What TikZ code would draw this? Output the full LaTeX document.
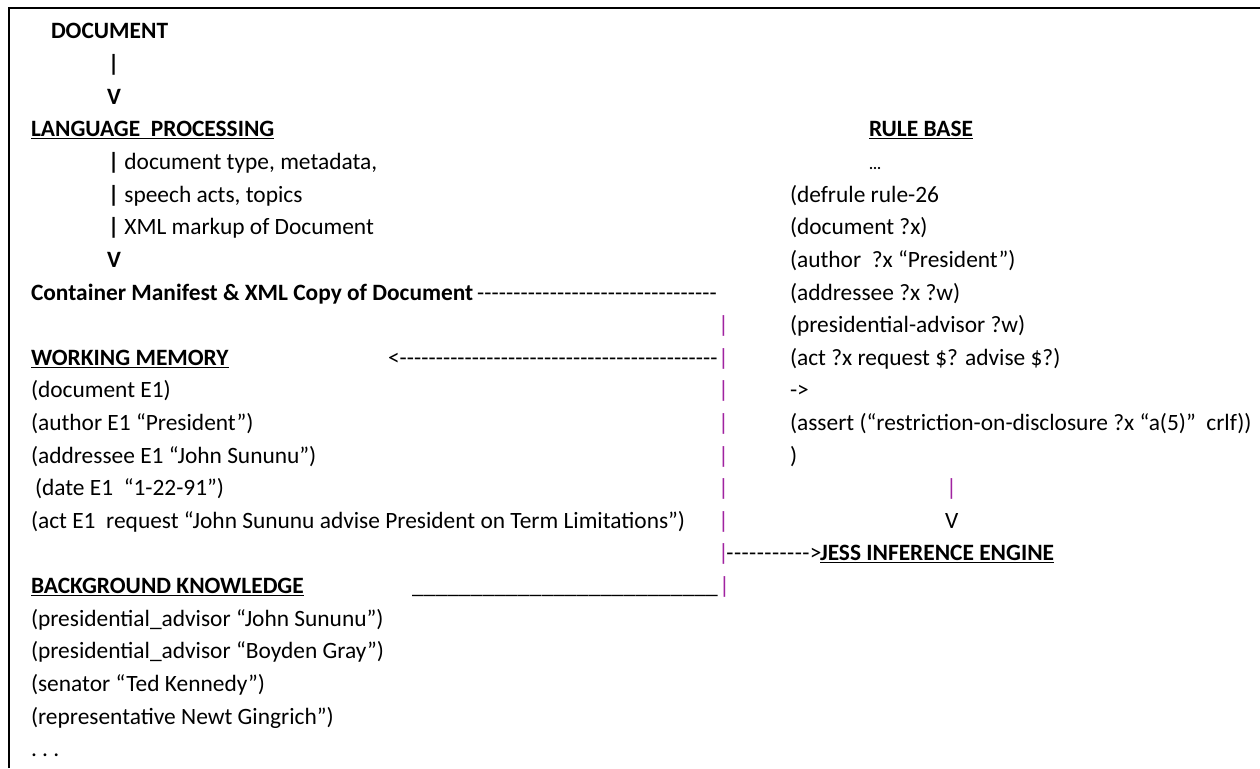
\documentclass[tikz,border=0pt]{standalone}
\usepackage{fontspec}
\setmainfont{Carlito}
\definecolor{barc}{RGB}{160,35,160}
\tikzset{
  t/.style={anchor=base west, inner sep=0pt, outer sep=0pt, font=\fontsize{23.4}{28}\selectfont},
  h/.style={t, font=\fontsize{23.4}{28}\selectfont\bfseries},
  pb/.style={t, text=barc},
}
\newcommand\dfill[1]{\hbox to #1{\xleaders\hbox{-}\hfill}}
\newcommand\ufill[1]{\hbox to #1{\xleaders\hbox{\_}\hfill}}
\begin{document}
\begin{tikzpicture}[x=1pt,y=-1pt]
\useasboundingbox (0,0) rectangle (1260,768);
\draw[line width=2pt] (9,768) -- (9,8) -- (1260,8);
\begin{scope}[shift={(0,2)}]
% left column
\node[h] (doc) at (51,37) {DOCUMENT};
\node[h] (b1) at (108,69.6) {|};
\node[h] (v1) at (107,102.2) {V};
\node[h] (lp) at (31,134.9) {\underline{LANGUAGE\ \ PROCESSING}};
\node[t] (l1) at (108,167.5) {\textbf{|} document type, metadata,};
\node[t] (l2) at (108,200.1) {\textbf{|} speech acts, topics};
\node[t] (l3) at (108,232.7) {\textbf{|} XML markup of Document};
\node[h] (v2) at (107,265.3) {V};
\node[h] (cm) at (31,298) {Container Manifest \& XML Copy of Document};
\node[t] (cmd) at (477,298) {\dfill{240pt}};
\node[h] (wm) at (31,363.2) {\underline{WORKING MEMORY}};
\node[t] (wma) at (388,363.2) {<\dfill{318pt}};
\node[t] (w1) at (31,395.8) {(document E1)};
\node[t] (w2) at (31,428.4) {(author E1 “President”)};
\node[t] (w3) at (31,461.1) {(addressee E1 “John Sununu”)};
\node[t] (w4) at (35,493.7) {(date E1\ \ “1-22-91”)};
\node[t] (w5) at (31,526.3) {(act E1\ \ request “John Sununu advise President on Term Limitations”)};
\node[h] (bk) at (31,591.5) {\underline{BACKGROUND KNOWLEDGE}};
\node[t] (bku) at (412,591.5) {\ufill{306pt}};
\node[t] (k1) at (31,624.2) {(presidential\_advisor “John Sununu”)};
\node[t] (k2) at (31,656.8) {(presidential\_advisor “Boyden Gray”)};
\node[t] (k3) at (31,689.4) {(senator “Ted Kennedy”)};
\node[t] (k4) at (31,722) {(representative Newt Gingrich”)};
\node[t] (k5) at (31,754.6) {.\ .\ .};
% magenta bars
\node[pb] (p9) at (718,330.6) {|};
\node[pb] (p10) at (718,363.2) {|};
\node[pb] (p11) at (718,395.8) {|};
\node[pb] (p12) at (718,428.4) {|};
\node[pb] (p13) at (718,461.1) {|};
\node[pb] (p14) at (718,493.7) {|};
\node[pb] (p15) at (718,526.3) {|};
\node[pb] (p16) at (718,558.9) {|};
\node[pb] (p17) at (719,591.5) {|};
\node[t] (jd) at (726,558.9) {\dfill{84pt}>};
\node[h] (je) at (820,558.9) {\underline{JESS INFERENCE ENGINE}};
% rule base
\node[h] (rb) at (869,134.9) {\underline{RULE BASE}};
\node[t, font=\fontsize{15}{18}\selectfont\bfseries] (r0) at (869,167.5) {...};
\node[t] (r1) at (790,200.1) {(defrule rule-26};
\node[t] (r2) at (790,232.7) {(document ?x)};
\node[t] (r3) at (790,265.3) {(author\ \ ?x “President”)};
\node[t] (r4) at (790,298) {(addressee ?x ?w)};
\node[t] (r5) at (790,330.6) {(presidential-advisor ?w)};
\node[t] (r6) at (790,363.2) {(act ?x request \$? advise \$?)};
\node[t] (r7) at (790,395.8) {->};
\node[t] (r8) at (790,428.4) {(assert (“restriction-on-disclosure ?x “a(5)”\ \ crlf))};
\node[t] (r9) at (790,461.1) {)};
\node[pb] (rbar) at (946,493.7) {|};
\node[t] (rv) at (945,526.3) {V};
\end{scope}
\end{tikzpicture}
\end{document}
